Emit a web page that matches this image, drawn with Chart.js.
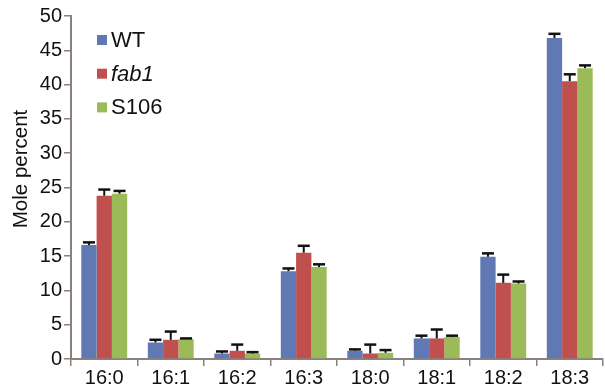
<!DOCTYPE html>
<html>
<head>
<meta charset="utf-8">
<script src="https://cdn.jsdelivr.net/npm/chart.js@4"></script>
<style>
  body { margin: 0; background: #fff; }
</style>
</head>
<body>
<canvas id="chart" width="605" height="390"></canvas>
<script>
const categories = ['16:0', '16:1', '16:2', '16:3', '18:0', '18:1', '18:2', '18:3'];
const wtValues = [16.6, 2.4, 0.8, 12.8, 1.2, 3.0, 14.9, 46.8];
const wtErrors = [0.4, 0.4, 0.3, 0.4, 0.2, 0.4, 0.5, 0.6];
const fab1Values = [23.8, 2.8, 1.2, 15.5, 0.8, 3.0, 11.1, 40.5];
const fab1Errors = [0.9, 1.2, 0.9, 1.0, 1.3, 1.3, 1.2, 1.0];
const s106Values = [24.1, 2.9, 0.8, 13.4, 0.9, 3.2, 11.0, 42.4];
const s106Errors = [0.4, 0.1, 0.2, 0.4, 0.4, 0.2, 0.3, 0.4];
const yTicks = [0, 5, 10, 15, 20, 25, 30, 35, 40, 45, 50];

const axisColor = '#8a817c';
const fontFamily = "'Liberation Sans', Arial, sans-serif";

const errorBars = {
    id: 'errorBars',
    afterDatasetsDraw(chart) {
        const ctx = chart.ctx;
        const yScale = chart.scales.y;
        ctx.save();
        ctx.strokeStyle = '#111';
        chart.data.datasets.forEach((ds, i) => {
            const meta = chart.getDatasetMeta(i);
            meta.data.forEach((bar, j) => {
                const top = yScale.getPixelForValue(ds.data[j] + ds.errors[j]);
                ctx.lineWidth = 2;
                ctx.beginPath();
                ctx.moveTo(bar.x, bar.y);
                ctx.lineTo(bar.x, top);
                ctx.stroke();
                ctx.lineWidth = 2.5;
                ctx.beginPath();
                ctx.moveTo(bar.x - 6, top);
                ctx.lineTo(bar.x + 6, top);
                ctx.stroke();
            });
        });
        ctx.restore();
    }
};

// legend inside the plot plus the y title
const extras = {
    id: 'extras',
    afterDraw(chart) {
        const ctx = chart.ctx;
        ctx.save();
        ctx.textBaseline = 'middle';
        chart.data.datasets.forEach((ds, i) => {
            const y = 40 + i * 33.7;
            ctx.fillStyle = ds.backgroundColor;
            ctx.fillRect(97, y - 5, 10, 10);
            ctx.fillStyle = '#111';
            ctx.font = (ds.label === 'fab1' ? 'italic ' : '') + '22px ' + fontFamily;
            ctx.fillText(ds.label, 111, y + 1);
        });
        ctx.translate(21, 169);
        ctx.rotate(-Math.PI / 2);
        ctx.textAlign = 'center';
        ctx.font = '20.5px ' + fontFamily;
        ctx.fillText('Mole percent', 0, 0);
        ctx.restore();
    }
};

new Chart(document.getElementById('chart'), {
    type: 'bar',
    data: {
        labels: categories,
        datasets: [
            { label: 'WT', data: wtValues, errors: wtErrors, backgroundColor: '#6079b5' },
            { label: 'fab1', data: fab1Values, errors: fab1Errors, backgroundColor: '#c0504d' },
            { label: 'S106', data: s106Values, errors: s106Errors, backgroundColor: '#9bbb59' }
        ]
    },
    options: {
        responsive: false,
        animation: false,
        layout: { padding: { top: 16, right: 2 } },
        datasets: { bar: { barPercentage: 1, categoryPercentage: 0.69 } },
        plugins: { legend: { display: false }, tooltip: { enabled: false } },
        scales: {
            x: {
                afterFit: s => { s.height = 31; },
                grid: { offset: true, drawOnChartArea: false, tickLength: 7, color: axisColor, lineWidth: 1.5 },
                border: { color: axisColor, width: 2 },
                ticks: { color: '#111', font: { family: fontFamily, size: 20 }, padding: 0 }
            },
            y: {
                min: 0,
                max: 50,
                afterFit: s => { s.width = 71; },
                afterBuildTicks: s => { s.ticks = yTicks.map(v => ({ value: v })); },
                grid: { drawOnChartArea: false, tickLength: 7, color: axisColor, lineWidth: 1.5 },
                border: { color: axisColor, width: 2 },
                ticks: { color: '#111', font: { family: fontFamily, size: 20 }, padding: 2 }
            }
        }
    },
    plugins: [errorBars, extras]
});
</script>
</body>
</html>
